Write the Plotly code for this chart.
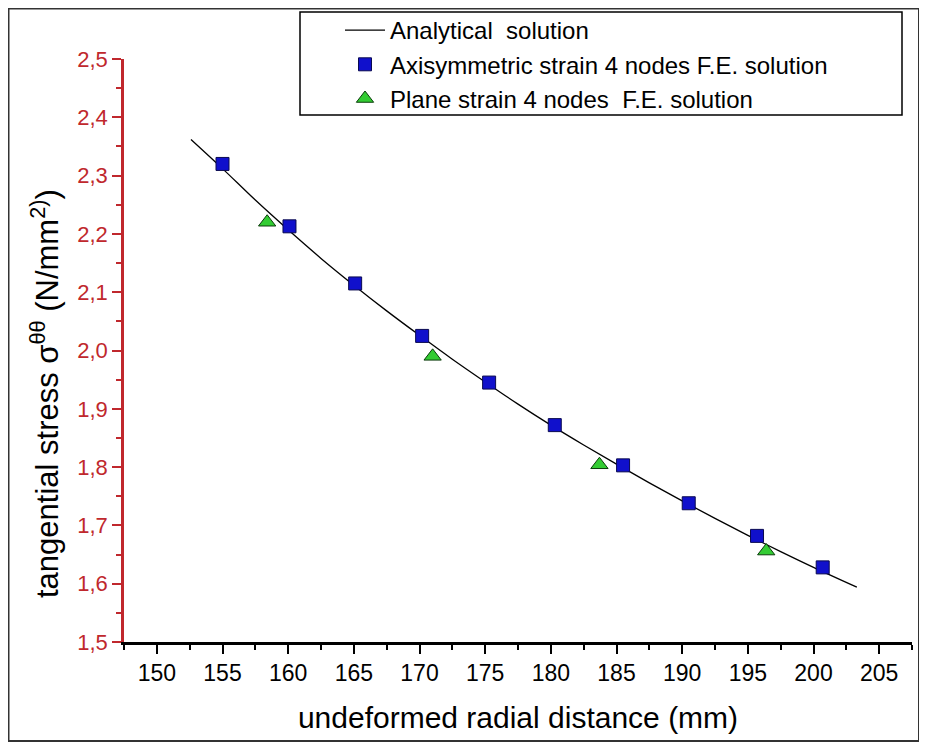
import plotly.graph_objects as go

# Analytical solution
r_analytical = [152.6, 155, 157.5, 160, 162.5, 165, 167.5, 170, 172.5, 175, 177.5, 180, 182.5, 185, 187.5, 190, 192.5, 195, 197.5, 200, 203.3]
s_analytical = [2.362, 2.312, 2.258, 2.207, 2.158, 2.112, 2.068, 2.026, 1.985, 1.946, 1.908, 1.872, 1.838, 1.805, 1.773, 1.742, 1.712, 1.683, 1.655, 1.628, 1.594]

# Axisymmetric strain 4 nodes F.E. solution
r_axi = [155.0, 160.1, 165.1, 170.2, 175.3, 180.3, 185.5, 190.5, 195.7, 200.7]
s_axi = [2.320, 2.213, 2.115, 2.025, 1.945, 1.872, 1.803, 1.738, 1.682, 1.628]

# Plane strain 4 nodes F.E. solution
r_plane = [158.4, 171.0, 183.7, 196.4]
s_plane = [2.220, 1.990, 1.804, 1.656]

x_ticks = [150, 155, 160, 165, 170, 175, 180, 185, 190, 195, 200, 205]

FONT = "Liberation Sans, Arial, sans-serif"
RED = "#c0282d"

W, H = 919, 741
L, R, T, B = 116, 15, 51, 107
PW, PH = W - L - R, H - T - B

def px(x):
    return (x - L) / PW

def py(y):
    return (H - B - y) / PH

fig = go.Figure()
fig.add_trace(go.Scatter(
    x=r_analytical, y=s_analytical, mode="lines", line=dict(color="black", width=1.3, shape="spline"),
    name="Analytical  solution"))
fig.add_trace(go.Scatter(
    x=r_axi, y=s_axi, mode="markers",
    marker=dict(symbol="square", size=13, color="#1010cc", line=dict(color="#0a0a50", width=1)),
    name="Axisymmetric strain 4 nodes F.E. solution"))
fig.add_trace(go.Scatter(
    x=r_plane, y=s_plane, mode="markers",
    marker=dict(symbol="triangle-up", size=15, color="#33cc33", line=dict(color="#0b3d0b", width=1)),
    name="Plane strain 4 nodes  F.E. solution"))

fig.update_layout(
    width=W, height=H,
    margin=dict(l=L, r=R, t=T, b=B, autoexpand=False),
    paper_bgcolor="white", plot_bgcolor="white",
    separators=", ",
    font=dict(family=FONT, color="black"),
    showlegend=True,
    legend=dict(
        x=px(332), y=py(0), xanchor="left", yanchor="top",
        borderwidth=0, bgcolor="rgba(0,0,0,0)",
        font=dict(family=FONT, size=24, color="black"),
        itemwidth=40, tracegroupgap=0,
    ),
    xaxis=dict(
        range=[147.5, 207.5], tickvals=x_ticks, ticks="outside", ticklen=9, tickwidth=2,
        tickcolor="black", showline=True, linecolor="black", linewidth=2.5, showgrid=False,
        zeroline=False, tickfont=dict(size=23, color="black"), automargin=False,
        minor=dict(dtick=2.5, tick0=147.5, ticks="outside", ticklen=5, tickwidth=2, tickcolor="black", showgrid=False),
        title=dict(text="undeformed radial distance (mm)", font=dict(size=30, color="black"), standoff=22),
    ),
    yaxis=dict(
        range=[1.5, 2.5], dtick=0.1, tick0=1.5, tickformat=".1f", ticks="outside", ticklen=9, tickwidth=2,
        tickcolor=RED, showline=True, linecolor=RED, linewidth=2.5, showgrid=False,
        zeroline=False, tickfont=dict(size=22, color=RED), automargin=False,
        minor=dict(dtick=0.05, tick0=1.5, ticks="outside", ticklen=5, tickwidth=2, tickcolor=RED, showgrid=False),
    ),
    annotations=[dict(
        text="tangential stress σ<sup>θθ</sup> (N/mm<sup>2)</sup>)", textangle=-90,
        xref="paper", yref="paper", x=px(37), y=py(386), xanchor="center", yanchor="middle",
        showarrow=False, font=dict(family=FONT, size=31, color="black"))],
    shapes=[
        dict(type="rect", xref="paper", yref="paper",
             x0=px(0.5), x1=px(911), y0=py(733), y1=py(0.5),
             line=dict(color="#333333", width=2), fillcolor="rgba(0,0,0,0)", layer="below"),
        dict(type="rect", xref="paper", yref="paper",
             x0=px(292), x1=px(894), y0=py(107), y1=py(4),
             line=dict(color="black", width=1.5), fillcolor="white", layer="below"),
    ],
)

fig.write_html("out.html")
